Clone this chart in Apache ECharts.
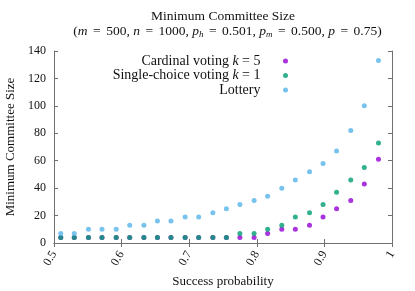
<!DOCTYPE html>
<html>
<head>
<meta charset="utf-8">
<script src="https://cdn.jsdelivr.net/npm/echarts@6/dist/echarts.min.js"></script>
<style>
html,body{margin:0;padding:0;background:#fff;}
#chart{width:415px;height:291px;}
</style>
</head>
<body>
<div id="chart"></div>
<script>
// Success probability (x positions)
const successProb = [0.510, 0.530, 0.551, 0.571, 0.592, 0.612, 0.633, 0.653, 0.673, 0.694, 0.714, 0.735,
                     0.755, 0.775, 0.796, 0.816, 0.837, 0.857, 0.878, 0.898, 0.918, 0.939, 0.959, 0.980];
// Minimum committee size per method
const cardinalK5 = [4, 4, 4, 4, 4, 4, 4, 4, 4, 4, 4, 4, 4, 4, 4, 7, 10, 10, 13, 19, 25, 31, 43, 61];
const singleChoiceK1 = [4, 4, 4, 4, 4, 4, 4, 4, 4, 4, 4, 4, 4, 7, 7, 10, 13, 19, 22, 28, 37, 46, 55, 73];
const lottery = [7, 7, 10, 10, 10, 13, 13, 16, 16, 19, 19, 22, 25, 28, 31, 34, 40, 46, 52, 58, 67, 82, 100, 133];
const xTicks = [0.5, 0.6, 0.7, 0.8, 0.9, 1];
const yTicks = [0, 20, 40, 60, 80, 100, 120, 140];

const FONT = 'Liberation Serif';
const pairs = (xs, ys) => xs.map((x, i) => [x, ys[i]]);

const chart = echarts.init(document.getElementById('chart'), null, {renderer: 'canvas'});
const axisLine = {show: true, lineStyle: {color: '#707070', width: 1}};
const tick = {show: true, inside: true, length: 4, lineStyle: {color: '#707070', width: 1}};

chart.setOption({
  animation: false,
  backgroundColor: '#fff',
  textStyle: {fontFamily: FONT},
  title: [{
    text: 'Minimum Committee Size',
    left: 223, top: 9, textAlign: 'center', padding: 0,
    textStyle: {fontFamily: FONT, fontSize: 13.5, fontWeight: 'normal', color: '#111', lineHeight: 15}
  }, {
    text: '{p|(}{i|m}{e|=}{p|500, }{i|n}{e|=}{p|1000, }{i|p}{s|h}{e|=}{p|0.501, }{i|p}{s|m}{e|=}{p|0.500, }{i|p}{e|=}{p|0.75)}',
    left: 227.5, top: 24, textAlign: 'center', padding: 0,
    textStyle: {
      fontFamily: FONT, fontSize: 13.5, fontWeight: 'normal', color: '#111', lineHeight: 15,
      rich: {
        p: {fontFamily: FONT, fontSize: 13.5, color: '#111', lineHeight: 15},
        e: {fontFamily: FONT, fontSize: 13.5, color: '#111', lineHeight: 15, padding: [0, 5.5, 0, 5.5]},
        i: {fontFamily: FONT, fontSize: 13.5, fontStyle: 'italic', color: '#111', lineHeight: 15},
        s: {fontFamily: FONT, fontSize: 9, fontStyle: 'italic', color: '#111', lineHeight: 9, verticalAlign: 'bottom'}
      }
    }
  }],
  legend: {
    orient: 'vertical', align: 'right', right: 127, top: 54, padding: 0,
    itemWidth: 40, itemHeight: 5, itemGap: 0.5, icon: 'circle',
    data: ['Cardinal voting k = 5', 'Single-choice voting k = 1', 'Lottery'],
    formatter: function (name) {
      const m = name.match(/^(.*) k = (\d)$/);
      if (m) return '{t|' + m[1] + ' }{i|k}{t| = ' + m[2] + '}';
      return '{t|' + name + '}';
    },
    textStyle: {
      fontFamily: FONT, fontSize: 14, color: '#111', lineHeight: 12.5,
      rich: {
        t: {fontFamily: FONT, fontSize: 14, color: '#111', lineHeight: 12.5},
        i: {fontFamily: FONT, fontSize: 14, fontStyle: 'italic', color: '#111', lineHeight: 12.5}
      }
    }
  },
  grid: {left: 54, right: 23, top: 51, bottom: 48, containLabel: false, outerBoundsMode: 'none'},
  xAxis: [{
    type: 'value', min: 0.5, max: 1, interval: 0.1,
    name: 'Success probability', nameLocation: 'middle', nameGap: 32,
    nameTextStyle: {fontFamily: FONT, fontSize: 13, color: '#111'},
    axisLine: axisLine, axisTick: tick, splitLine: {show: false},
    axisLabel: {
      rotate: 60, margin: 9, fontFamily: FONT, fontSize: 12, color: '#111',
      formatter: v => String(parseFloat(v.toFixed(2))),
      customValues: xTicks
    }
  }, {
    type: 'value', position: 'top', min: 0.5, max: 1, interval: 0.1,
    axisLine: axisLine, axisTick: tick, axisLabel: {show: false}, splitLine: {show: false}
  }],
  yAxis: [{
    type: 'value', min: 0, max: 140, interval: 20,
    name: 'Minimum Committee Size', nameLocation: 'middle', nameGap: 33,
    nameTextStyle: {fontFamily: FONT, fontSize: 13, color: '#111'},
    axisLine: axisLine, axisTick: tick, splitLine: {show: false},
    axisLabel: {margin: 8, fontFamily: FONT, fontSize: 12, color: '#111', customValues: yTicks}
  }, {
    type: 'value', position: 'right', min: 0, max: 140, interval: 20,
    axisLine: axisLine, axisTick: tick, axisLabel: {show: false}, splitLine: {show: false}
  }],
  series: [
    {name: 'Cardinal voting k = 5', type: 'scatter', symbol: 'circle', symbolSize: 5,
     itemStyle: {color: '#9400d3'}, data: pairs(successProb, cardinalK5)},
    {name: 'Single-choice voting k = 1', type: 'scatter', symbol: 'circle', symbolSize: 5,
     itemStyle: {color: '#009e73'}, data: pairs(successProb, singleChoiceK1)},
    {name: 'Lottery', type: 'scatter', symbol: 'circle', symbolSize: 5,
     itemStyle: {color: '#56b4e9'}, data: pairs(successProb, lottery)}
  ]
});
</script>
</body>
</html>
